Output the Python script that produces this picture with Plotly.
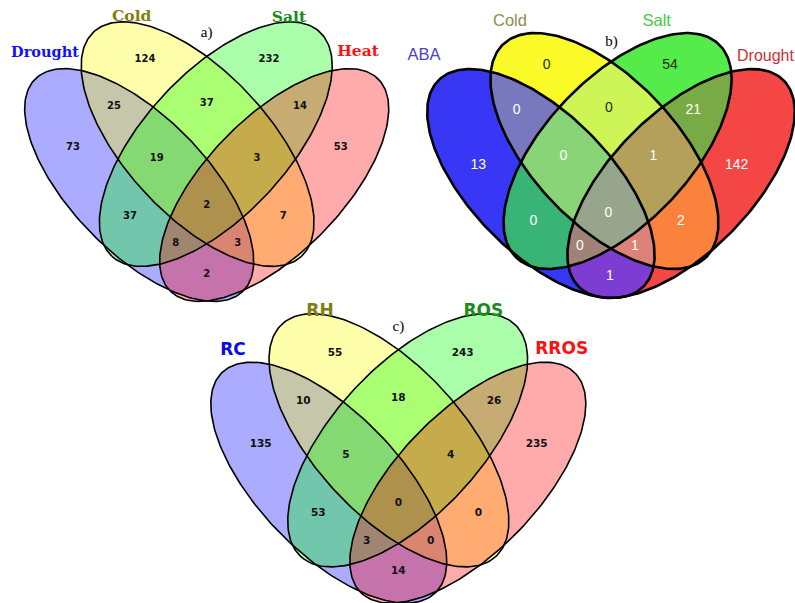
import numpy as np
import plotly.graph_objects as go

# ---------------- data ----------------
regions = ["A", "B", "C", "D", "AB", "BC", "CD", "AC", "BD", "AD",
           "ABC", "BCD", "ACD", "ABD", "ABCD"]

sets_a = ["Drought", "Cold", "Salt", "Heat"]
counts_a = [73, 124, 232, 53, 25, 37, 14, 37, 7, 2, 19, 3, 8, 3, 2]

sets_b = ["ABA", "Cold", "Salt", "Drought"]
counts_b = [13, 0, 54, 142, 0, 0, 21, 0, 2, 1, 0, 1, 0, 1, 0]

sets_c = ["RC", "RH", "ROS", "RROS"]
counts_c = [135, 55, 243, 235, 10, 18, 26, 53, 0, 14, 5, 4, 3, 0, 0]

panel_titles = ["a)", "b)", "c)"]

# ---------------- geometry ----------------
# ellipse = cx, cy, semi-major, semi-minor, angle (deg, screen coords)
CX0, CY0 = 206.7, 63.3
eA = [139.2, 185.0, 148.5, 67.9, 45.7]
eB = [197.6, 144.1, 152.9, 71.6, 47.2]
eAb = [540.9, 183.5, 145.4, 69.9, 45.3]
eBb = [604.4, 151.0, 147.1, 72.6, 46.6]
BX = 611.0


def mirror(e, cx):
    return [2*cx-e[0], e[1], e[2], e[3], 180-e[4]]


def ellipse_xy(e, n=240):
    cx, cy, a, b, ang = e
    t = np.linspace(0, 2*np.pi, n, endpoint=False)
    th = np.radians(ang)
    x = cx + a*np.cos(t)*np.cos(th) - b*np.sin(t)*np.sin(th)
    y = cy + a*np.cos(t)*np.sin(th) + b*np.sin(t)*np.cos(th)
    return np.column_stack([x, y])


def transform(poly, panel):
    ox, oy, kx, ky = panel
    return np.column_stack([ox + kx*(poly[:, 0]-CX0), oy + ky*(poly[:, 1]-CY0)])


panel_tf = {"a": (206.7, 63.3, 1.0, 1.0), "c": (398.3, 356.7, 1.03, 1.035)}


def panel_ellipses(key):
    if key == "b":
        es = [eAb, eBb, mirror(eBb, BX), mirror(eAb, BX)]
        return [ellipse_xy(e) for e in es]
    es = [eA, eB, mirror(eB, CX0), mirror(eA, CX0)]
    return [transform(ellipse_xy(e), panel_tf[key]) for e in es]


def signed_area(poly):
    x, y = poly[:, 0], poly[:, 1]
    return 0.5*np.sum(x*np.roll(y, -1) - np.roll(x, -1)*y)


def clip_convex(subject, clipper):
    s = np.sign(signed_area(clipper))
    out = list(map(tuple, subject))
    m = len(clipper)
    for k in range(m):
        if not out:
            break
        c1 = clipper[k]; c2 = clipper[(k+1) % m]

        def inside(p):
            return s*((c2[0]-c1[0])*(p[1]-c1[1]) - (c2[1]-c1[1])*(p[0]-c1[0])) >= 0

        def inter(p, q):
            dx1, dy1 = c2[0]-c1[0], c2[1]-c1[1]
            dx2, dy2 = q[0]-p[0], q[1]-p[1]
            den = dx1*dy2 - dy1*dx2
            if abs(den) < 1e-12:
                return q
            u = (dx1*(c1[1]-p[1]) - dy1*(c1[0]-p[0])) / den
            return (p[0]+u*dx2, p[1]+u*dy2)

        inp = out; out = []
        prev = inp[-1]
        for cur in inp:
            if inside(cur):
                if not inside(prev):
                    out.append(inter(prev, cur))
                out.append(cur)
            elif inside(prev):
                out.append(inter(prev, cur))
            prev = cur
    return np.array(out)


# ---------------- label layout ----------------
pos = {
    "a": {"B": (145, 59.3), "C": (269, 59.3), "AB": (114, 106), "BC": (206.7, 103), "CD": (300, 106),
          "A": (73, 147.3), "ABC": (156.7, 158), "BCD": (257, 158), "D": (340.7, 147.3),
          "ABCD": (206.7, 205.3), "AC": (130, 216.7), "BD": (283.3, 216.7), "ACD": (175.7, 243.3),
          "ABD": (237.7, 243.3), "AD": (206.7, 274)},
    "b": {"B": (546.7, 65), "C": (670, 65), "AB": (516.7, 110), "BC": (609, 108.3), "CD": (693.3, 110),
          "A": (478.3, 165), "ABC": (563.3, 156.7), "BCD": (653.3, 156.7), "D": (736.7, 165),
          "ABCD": (608.3, 213.3), "AC": (533.3, 221.7), "BD": (681, 221.7), "ACD": (580, 246.7),
          "ABD": (635, 246.7), "AD": (610, 276.7)},
    "c": {"B": (335, 353.3), "C": (462.7, 353.3), "AB": (303.3, 401.7), "BC": (398.3, 398.3),
          "CD": (494, 401.7), "A": (260.7, 444.3), "ABC": (346, 455), "BCD": (450.7, 455),
          "D": (536.7, 444.3), "ABCD": (398.3, 503.3), "AC": (318.3, 513.3), "BD": (478.3, 513.3),
          "ACD": (366.7, 541.7), "ABD": (430.7, 541.7), "AD": (398.3, 571.7)},
}

set_label_pos = {
    "a": [(45, 53), (131.7, 17), (289, 18), (358, 52)],
    "b": [(424, 56), (510, 21.7), (656.7, 21.7), (765.5, 56.7)],
    "c": [(233, 351), (320, 312), (483.3, 312), (561.7, 350)],
}
title_pos = {"a": (206.7, 33), "b": (611.5, 42), "c": (398.3, 327)}

# ---------------- styles ----------------
pastel_fill = ["rgba(0,0,255,0.33)", "rgba(255,255,0,0.33)", "rgba(0,255,0,0.33)", "rgba(255,0,0,0.33)"]

b_region_color = {
    "A": "rgb(55,55,245)", "B": "rgb(250,250,40)", "C": "rgb(85,235,75)", "D": "rgb(245,70,70)",
    "AB": "rgb(120,120,190)", "BC": "rgb(205,245,85)", "CD": "rgb(120,170,70)",
    "AC": "rgb(55,180,118)", "BD": "rgb(250,130,60)", "AD": "rgb(125,60,210)",
    "ABC": "rgb(138,212,120)", "BCD": "rgb(180,160,90)", "ACD": "rgb(160,130,118)",
    "ABD": "rgb(220,130,120)", "ABCD": "rgb(150,165,140)",
}

fig = go.Figure()


def draw_outlines(polys, lw):
    for p in polys:
        fig.add_trace(go.Scatter(x=np.append(p[:, 0], p[0, 0]), y=np.append(p[:, 1], p[0, 1]),
                                 mode="lines", line=dict(color="black", width=lw),
                                 hoverinfo="skip", showlegend=False))


def draw_alpha_panel(key, fills, lw):
    polys = panel_ellipses(key)
    for p, f in zip(polys, fills):
        fig.add_trace(go.Scatter(x=p[:, 0], y=p[:, 1], mode="lines", fill="toself", fillcolor=f,
                                 line=dict(width=0), hoverinfo="skip", showlegend=False))
    draw_outlines(polys, lw)


def draw_region_panel(key, colors, lw):
    polys = panel_ellipses(key)
    letters = "ABCD"
    for name in sorted(colors.keys(), key=len):
        idx = [letters.index(ch) for ch in name]
        poly = polys[idx[0]]
        for j in idx[1:]:
            poly = clip_convex(poly, polys[j])
        if len(poly) < 3:
            continue
        fig.add_trace(go.Scatter(x=poly[:, 0], y=poly[:, 1], mode="lines", fill="toself",
                                 fillcolor=colors[name], line=dict(width=0),
                                 hoverinfo="skip", showlegend=False))
    draw_outlines(polys, lw)


draw_alpha_panel("a", pastel_fill, 1.6)
draw_region_panel("b", b_region_color, 2.6)
draw_alpha_panel("c", pastel_fill, 1.6)


def draw_counts(key, counts, family, size, weight, colors):
    xs = [pos[key][r][0] for r in regions]
    ys = [pos[key][r][1] for r in regions]
    fig.add_trace(go.Scatter(x=xs, y=ys, mode="text", text=[str(v) for v in counts],
                             textfont=dict(family=family, size=size, color=colors, weight=weight),
                             hoverinfo="skip", showlegend=False))


draw_counts("a", counts_a, "DejaVu Sans", 10, "bold", "#111111")
b_cols = ["#2a2a10" if r in ("B", "C", "BC") else "#ffffff" for r in regions]
draw_counts("b", counts_b, "Liberation Sans", 14, "normal", b_cols)
draw_counts("c", counts_c, "DejaVu Sans", 10.5, "bold", "#111111")


def draw_sets(key, names, family, sizes, colors, weight):
    xs = [p[0] for p in set_label_pos[key]]
    ys = [p[1] for p in set_label_pos[key]]
    fig.add_trace(go.Scatter(x=xs, y=ys, mode="text", text=names,
                             textfont=dict(family=family, size=sizes, color=colors, weight=weight),
                             hoverinfo="skip", showlegend=False))


draw_sets("a", sets_a, "DejaVu Serif", [14.5, 15.5, 15.5, 15.5],
          ["#1010ff", "#7f7f10", "#1a8c1a", "#ff1010"], "bold")
draw_sets("b", sets_b, "Liberation Sans", [16.5, 16.5, 16.5, 16],
          ["#4646b4", "#8c8c50", "#46c846", "#c83232"], "normal")
draw_sets("c", sets_c, "DejaVu Sans", 17,
          ["#0a0ae6", "#7f7f10", "#1a8c1a", "#ff1010"], "bold")

for k, t in zip(["a", "b", "c"], panel_titles):
    fig.add_trace(go.Scatter(x=[title_pos[k][0]], y=[title_pos[k][1]], mode="text", text=[t],
                             textfont=dict(family="Liberation Serif", size=15, color="black"),
                             hoverinfo="skip", showlegend=False))

fig.update_layout(
    width=795, height=603, margin=dict(l=0, r=0, t=0, b=0),
    paper_bgcolor="white", plot_bgcolor="white",
    xaxis=dict(range=[0, 795], visible=False, fixedrange=True),
    yaxis=dict(range=[603, 0], visible=False, fixedrange=True),
    showlegend=False,
)
fig.write_html("out.html", config={"displayModeBar": False},
               post_script="document.body.style.margin='0';document.body.style.overflow='hidden';")
